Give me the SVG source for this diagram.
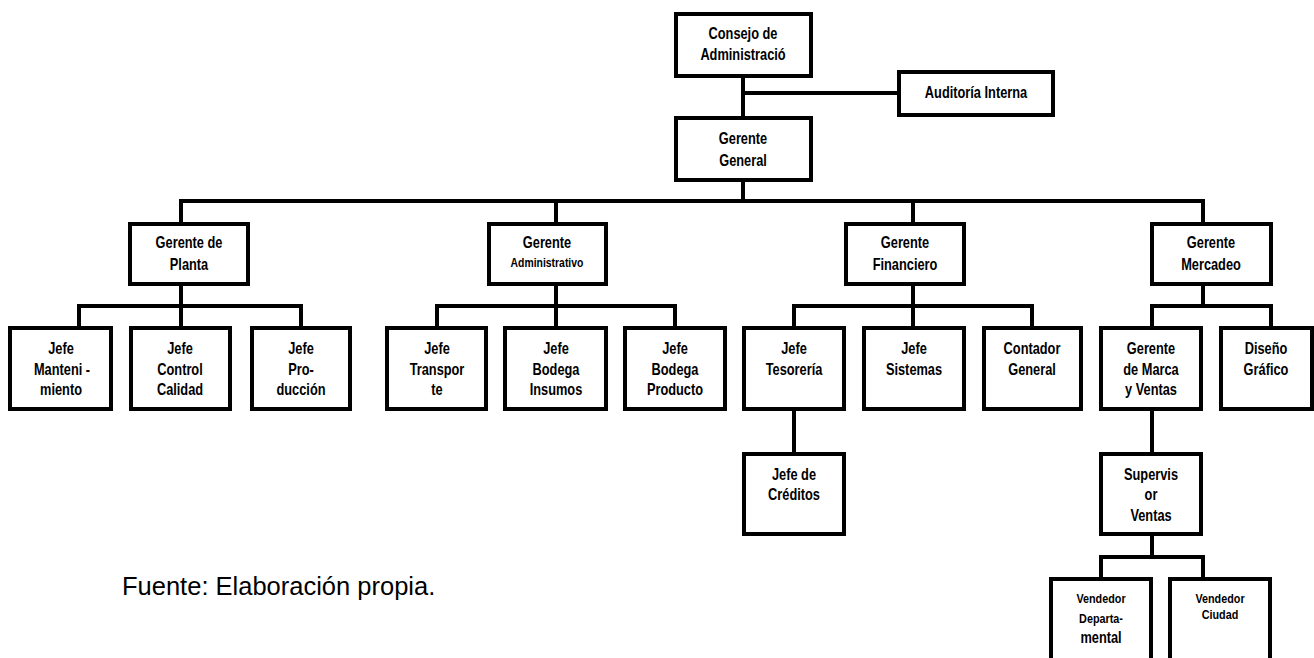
<svg xmlns="http://www.w3.org/2000/svg" width="1314" height="658" viewBox="0 0 1314 658">
<style>
.box{fill:#fff;stroke:#000;stroke-width:4}
.ln{fill:none;stroke:#000;stroke-width:4;stroke-linecap:square}
text{font-family:"Liberation Sans",Arial,sans-serif;font-size:16px;font-weight:bold;text-anchor:middle;fill:#000}
.sm{font-size:13px}
.vs{font-size:13.5px}
.src{font-weight:normal;font-size:25.5px;text-anchor:start}
</style>
<rect width="1314" height="658" fill="#fff"/>
<g id="connectors">
<path class="ln" d="M743 78V118M745 93H898"/>
<path class="ln" d="M743 182V201M181 201H1203M181 201V222M556 201V222M913 201V222M1203 201V222"/>
<path class="ln" d="M181 286V306M79 306H301M79 306V326M181 306V326M301 306V326"/>
<path class="ln" d="M556 286V306M437 306H675M437 306V326M556 306V326M675 306V326"/>
<path class="ln" d="M913 286V306M794 306H1032M794 306V326M913 306V326M1032 306V326"/>
<path class="ln" d="M1203 286V306M1152 306H1271M1152 306V326M1271 306V326"/>
<path class="ln" d="M794 411V452"/>
<path class="ln" d="M1152 411V452M1152 536V557M1101 557H1203M1101 557V577M1203 557V577"/>
</g>
<g id="n-consejo"><rect class="box" x="676" y="14" width="135" height="62"/><text transform="translate(743 39) scale(0.8 1)">Consejo de</text><text transform="translate(743 60) scale(0.8 1)">Administració</text></g>
<g id="n-auditoria"><rect class="box" x="899" y="72" width="154" height="43"/><text transform="translate(976 98) scale(0.8 1)">Auditoría Interna</text></g>
<g id="n-gg"><rect class="box" x="676" y="118" width="135" height="62"/><text transform="translate(743 144) scale(0.8 1)">Gerente</text><text transform="translate(743 166) scale(0.8 1)">General</text></g>
<g id="n-planta"><rect class="box" x="130" y="224" width="118" height="60"/><text transform="translate(189 248) scale(0.8 1)">Gerente de</text><text transform="translate(189 270) scale(0.8 1)">Planta</text></g>
<g id="n-admin"><rect class="box" x="489" y="224" width="117" height="60"/><text transform="translate(547 248) scale(0.8 1)">Gerente</text><text class="sm" transform="translate(547 267) scale(0.8 1)">Administrativo</text></g>
<g id="n-fin"><rect class="box" x="846" y="224" width="118" height="60"/><text transform="translate(905 248) scale(0.8 1)">Gerente</text><text transform="translate(905 270) scale(0.8 1)">Financiero</text></g>
<g id="n-merc"><rect class="box" x="1152" y="224" width="119" height="60"/><text transform="translate(1211 248) scale(0.8 1)">Gerente</text><text transform="translate(1211 270) scale(0.8 1)">Mercadeo</text></g>
<g id="n-manteni"><rect class="box" x="10" y="328" width="101" height="81"/><text transform="translate(61 354) scale(0.8 1)">Jefe</text><text transform="translate(62 375) scale(0.8 1)">Manteni -</text><text transform="translate(61 395) scale(0.8 1)">miento</text></g>
<g id="n-control"><rect class="box" x="131" y="328" width="99" height="81"/><text transform="translate(180 354) scale(0.8 1)">Jefe</text><text transform="translate(180 375) scale(0.8 1)">Control</text><text transform="translate(180 395) scale(0.8 1)">Calidad</text></g>
<g id="n-produccion"><rect class="box" x="252" y="328" width="98" height="81"/><text transform="translate(301 354) scale(0.8 1)">Jefe</text><text transform="translate(301 375) scale(0.8 1)">Pro-</text><text transform="translate(301 395) scale(0.8 1)">ducción</text></g>
<g id="n-transporte"><rect class="box" x="387" y="328" width="99" height="81"/><text transform="translate(437 354) scale(0.8 1)">Jefe</text><text transform="translate(437 375) scale(0.8 1)">Transpor</text><text transform="translate(437 395) scale(0.8 1)">te</text></g>
<g id="n-insumos"><rect class="box" x="505" y="328" width="101" height="81"/><text transform="translate(556 354) scale(0.8 1)">Jefe</text><text transform="translate(556 375) scale(0.8 1)">Bodega</text><text transform="translate(556 395) scale(0.8 1)">Insumos</text></g>
<g id="n-producto"><rect class="box" x="625" y="328" width="100" height="81"/><text transform="translate(675 354) scale(0.8 1)">Jefe</text><text transform="translate(675 375) scale(0.8 1)">Bodega</text><text transform="translate(675 395) scale(0.8 1)">Producto</text></g>
<g id="n-tesoreria"><rect class="box" x="744" y="328" width="100" height="81"/><text transform="translate(794 354) scale(0.8 1)">Jefe</text><text transform="translate(794 375) scale(0.8 1)">Tesorería</text></g>
<g id="n-sistemas"><rect class="box" x="864" y="328" width="100" height="81"/><text transform="translate(914 354) scale(0.8 1)">Jefe</text><text transform="translate(914 375) scale(0.8 1)">Sistemas</text></g>
<g id="n-contador"><rect class="box" x="984" y="328" width="97" height="81"/><text transform="translate(1032 354) scale(0.8 1)">Contador</text><text transform="translate(1032 375) scale(0.8 1)">General</text></g>
<g id="n-marca"><rect class="box" x="1101" y="328" width="100" height="81"/><text transform="translate(1151 354) scale(0.8 1)">Gerente</text><text transform="translate(1151 375) scale(0.8 1)">de Marca</text><text transform="translate(1151 395) scale(0.8 1)">y Ventas</text></g>
<g id="n-diseno"><rect class="box" x="1221" y="328" width="91" height="81"/><text transform="translate(1266 354) scale(0.8 1)">Diseño</text><text transform="translate(1266 375) scale(0.8 1)">Gráfico</text></g>
<g id="n-creditos"><rect class="box" x="744" y="454" width="100" height="80"/><text transform="translate(794 480) scale(0.8 1)">Jefe de</text><text transform="translate(794 500) scale(0.8 1)">Créditos</text></g>
<g id="n-supervisor"><rect class="box" x="1101" y="454" width="100" height="80"/><text transform="translate(1151 480) scale(0.8 1)">Supervis</text><text transform="translate(1151 500) scale(0.8 1)">or</text><text transform="translate(1151 521) scale(0.8 1)">Ventas</text></g>
<g id="n-vdep"><rect class="box" x="1051" y="579" width="100" height="100"/><text class="vs" transform="translate(1101 603) scale(0.8 1)">Vendedor</text><text class="vs" transform="translate(1101 623) scale(0.8 1)">Departa-</text><text transform="translate(1101 643) scale(0.8 1)">mental</text></g>
<g id="n-vciu"><rect class="box" x="1170" y="579" width="100" height="100"/><text class="vs" transform="translate(1220 603) scale(0.8 1)">Vendedor</text><text class="vs" transform="translate(1220 619) scale(0.8 1)">Ciudad</text></g>
<text class="src" x="122" y="595">Fuente: Elaboración propia.</text>
</svg>
